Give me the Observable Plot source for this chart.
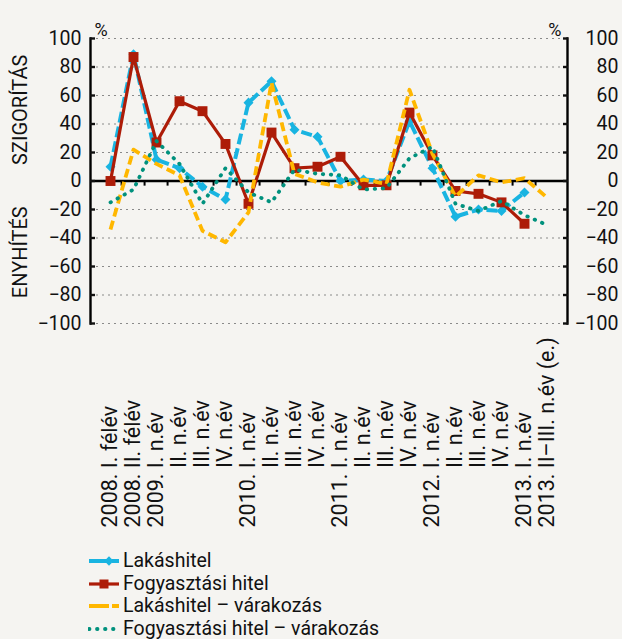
<!DOCTYPE html>
<html><head><meta charset="utf-8">
<script src="https://cdn.jsdelivr.net/npm/d3@7"></script>
<script src="https://cdn.jsdelivr.net/npm/@observablehq/plot@0.6"></script>
<style>
body{margin:0;background:#f5f4f1;font-family:Roboto,sans-serif;}
#chart svg{display:block;}
#legend{margin-left:88px;margin-top:5px;font-size:19.5px;color:#111;}
.item{display:flex;align-items:center;height:22.5px;}
.item svg{margin-right:3px;flex:none;}
.item span{display:inline-block;line-height:22px;white-space:nowrap;}
</style></head><body><div id="chart"></div><div id="legend"></div>
<script>
const categories = ["2008H1","2008H2","2009Q1","2009Q2","2009Q3","2009Q4","2010Q1","2010Q2","2010Q3","2010Q4","2011Q1","2011Q2","2011Q3","2011Q4","2012Q1","2012Q2","2012Q3","2012Q4","2013Q1","2013Q23"];
const pad = "\u2007\u2007\u2007\u2007\u2008 ";
const tickLabels = ["2008. I. félév","2008. II. félév","2009. I. n.év",pad+"II. n.év",pad+"III. n.év",pad+"IV. n.év","2010. I. n.év",pad+"II. n.év",pad+"III. n.év",pad+"IV. n.év","2011. I. n.év",pad+"II. n.év",pad+"III. n.év",pad+"IV. n.év","2012. I. n.év",pad+"II. n.év",pad+"III. n.év",pad+"IV. n.év","2013. I. n.év","2013. II\u2013III. n.év (e.)"];
const yTicks = [-100,-80,-60,-40,-20,0,20,40,60,80,100];

const lakashitel   = [10, 89, 15, 9, -4, -13, 55, 70, 36, 31, 0, 1, 0, 42, 9, -25, -20, -21, -8, null];
const fogyasztasi  = [0, 87, 27, 56, 49, 26, -16, 34, 9, 10, 17, -3, -3, 48, 18, -7, -9, -15, -30, null];
const lakasVarakozas = [-34, 22, 12, 4, -35, -43, -22, 69, 5, -1, -4, 1, -2, 64, 19, -11, 4, -1, 2, -12];
const fogyVarakozas  = [-15, -6, 28, 12, -16, 9, -8, -15, 8, 5, 4, -6, -5, 16, 24, -16, -21, -14, -24, -31];

const seriesNames = ["Lakáshitel","Fogyasztási hitel","Lakáshitel – várakozás","Fogyasztási hitel – várakozás"];
const seriesValues = [lakashitel, fogyasztasi, lakasVarakozas, fogyVarakozas];

const styles = [
  {color:"#19b4e1", dash:"11,4", width:4, cap:"butt", symbol:"square", rotate:45, r:4},
  {color:"#ad1c08", dash:null, width:3.2, cap:"butt", symbol:"square", rotate:0, r:5.6},
  {color:"#ffb700", dash:"9,4.5", width:3.8, cap:"butt", symbol:null},
  {color:"#00917d", dash:"0.5,7.5", width:3.8, cap:"round", symbol:null}
];

const W = 622, H = 545, ML = 90, MR = 55, MT = 38, MB = H - 323;
const step = (W - ML - MR) / categories.length;

const rowsFor = (k) => seriesValues[k].map((v, i) => ({cat: categories[i], value: v}));

const marks = [
  Plot.gridY(yTicks, {stroke:"#8a8a8a", strokeOpacity:1, strokeDasharray:"2,4", strokeWidth:1.2}),
  Plot.ruleY([0], {stroke:"#000", strokeWidth:2.6}),
  Plot.ruleX(categories.slice(1), {x: d => d, dx: -step/2, y1: 0, y2: -3.6, stroke:"#000", strokeWidth:2}),
  Plot.frame({anchor:"left", stroke:"#000", strokeWidth:2.4}),
  Plot.frame({anchor:"right", stroke:"#000", strokeWidth:2.4}),
  Plot.axisY(yTicks, {anchor:"left", tickSize:-5, tickPadding:14, fontSize:19.5, strokeWidth:2.4, label:null, tickFormat: d3.format("d")}),
  Plot.axisY(yTicks, {anchor:"right", tickSize:-5, tickPadding:56, textAnchor:"end", fontSize:19.5, strokeWidth:2.4, label:null, tickFormat: d3.format("d")}),
];
for (let k = 0; k < 4; k++) {
  const s = styles[k];
  marks.push(Plot.line(rowsFor(k), {x:"cat", y:"value", stroke:s.color, strokeWidth:s.width, strokeDasharray:s.dash, strokeLinecap:s.cap, strokeLinejoin:"round"}));
  if (s.symbol) marks.push(Plot.dot(rowsFor(k).filter(d => d.value != null), {x:"cat", y:"value", symbol:s.symbol, rotate:s.rotate, r:s.r, fill:s.color, stroke:null}));
}
marks.push(
  Plot.text(categories, {x: d => d, text: (d, i) => tickLabels[i], frameAnchor:"bottom", dy: 204, rotate:-90, textAnchor:"start", lineAnchor:"middle", fontSize:21.5, fill:"#111"}),
  Plot.text([{y:50, t:"SZIGORÍTÁS"}, {y:-50, t:"ENYHÍTÉS"}], {y:"y", text:"t", frameAnchor:"left", dx:-70, rotate:-90, textAnchor:"middle", lineAnchor:"middle", fontSize:20, fill:"#111"}),
  Plot.text(["%"], {frameAnchor:"top-left", dx:4, dy:-15, fontSize:18, fill:"#111"}),
  Plot.text(["%"], {frameAnchor:"top-right", dx:-6, dy:-15, fontSize:18, fill:"#111"})
);

const chart = Plot.plot({
  width: W, height: H,
  marginLeft: ML, marginRight: MR, marginTop: MT, marginBottom: MB,
  style: {background:"transparent", fontFamily:"Roboto, sans-serif", color:"#111"},
  x: {type:"point", domain: categories, padding:0.5, axis:null},
  y: {domain:[-100,100], axis:null},
  marks
});
document.getElementById("chart").appendChild(chart);

const legend = document.getElementById("legend");
seriesNames.forEach((name, k) => {
  const s = styles[k];
  const item = document.createElement("div");
  item.className = "item";
  let marker = "";
  if (s.symbol === "square" && s.rotate) marker = `<rect x="${21-3.3}" y="${8-3.3}" width="6.6" height="6.6" fill="${s.color}" transform="rotate(45 21 8)"/>`;
  else if (s.symbol === "square") marker = `<rect x="${16-4.5}" y="3.5" width="9" height="9" fill="${s.color}"/>`;
  item.innerHTML = `<svg width="32" height="16"><line x1="1" y1="8" x2="31" y2="8" stroke="${s.color}" stroke-width="${s.width}" ${s.dash ? `stroke-dasharray="${k===3 ? '0.5,7.5' : '20,3'}"` : ""} stroke-linecap="${s.cap}"/>${marker}</svg><span>${name}</span>`;
  legend.appendChild(item);
});
</script>
</body></html>
